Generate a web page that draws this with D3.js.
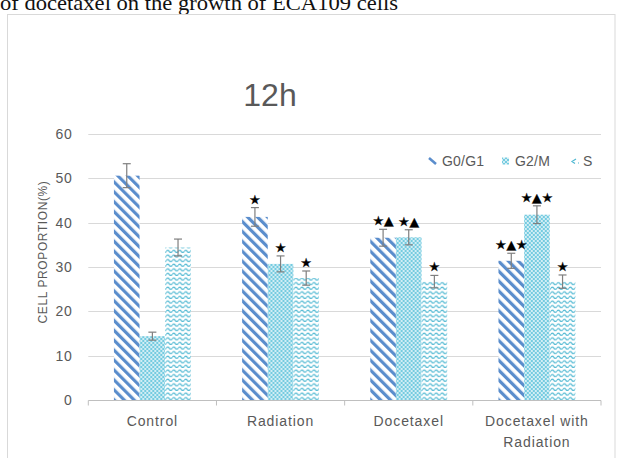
<!DOCTYPE html>
<html>
<head>
<meta charset="utf-8">
<script src="https://cdn.jsdelivr.net/npm/d3@7"></script>
<style>
  html, body { margin: 0; padding: 0; background: #fff; }
  svg { display: block; }
</style>
</head>
<body>
<script>
// Cell-cycle distribution of ECA109 cells after 12h treatment
const categories = ["Control", "Radiation", "Docetaxel", "Docetaxel with Radiation"];
const seriesNames = ["G0/G1", "G2/M", "S"];
const g0g1 = [50.6, 41.3, 36.6, 31.4];
const g2m  = [14.4, 30.7, 36.7, 41.8];
const sPhase = [34.4, 27.5, 26.7, 26.7];
const g0g1Err = [2.7, 2.1, 1.9, 1.7];
const g2mErr  = [0.9, 1.8, 1.7, 2.0];
const sErr    = [1.9, 1.6, 1.4, 1.5];
// significance marks above each bar (★ vs control, ▲ vs single treatment)
const g0g1Marks = ["", "★", "★▲", "★▲★"];
const g2mMarks  = ["", "★", "★▲", "★▲★"];
const sMarks    = ["", "★", "★", "★"];
const yTicks = [0, 10, 20, 30, 40, 50, 60];

const W = 617, H = 458;
const svg = d3.select("body").append("svg").attr("width", W).attr("height", H);

const blue = "#5a8dcc";
const cyan = "#4fb8d2";

// fill patterns
const defs = svg.append("defs");
const stripes = defs.append("pattern").attr("id", "pat-g0")
  .attr("patternUnits", "userSpaceOnUse").attr("width", 7).attr("height", 7)
  .attr("patternTransform", "rotate(-45)");
stripes.append("rect").attr("width", 7).attr("height", 7).attr("fill", "#fff");
stripes.append("rect").attr("width", 3.2).attr("height", 7).attr("fill", blue);

const mesh = defs.append("pattern").attr("id", "pat-g2")
  .attr("patternUnits", "userSpaceOnUse").attr("width", 4).attr("height", 4);
mesh.append("rect").attr("width", 4).attr("height", 4).attr("fill", "#74cbe0");
mesh.append("circle").attr("cx", 1).attr("cy", 1).attr("r", 0.9).attr("fill", "#fff");
mesh.append("circle").attr("cx", 3).attr("cy", 3).attr("r", 0.9).attr("fill", "#fff");

const wave = defs.append("pattern").attr("id", "pat-s")
  .attr("patternUnits", "userSpaceOnUse").attr("width", 6).attr("height", 4.6);
wave.append("rect").attr("width", 6).attr("height", 4.6).attr("fill", "#fff");
wave.append("path").attr("d", "M0,3 Q1.5,0.8 3,3 T6,3")
  .attr("fill", "none").attr("stroke", cyan).attr("stroke-width", 1.2);

const fills = { "G0/G1": "url(#pat-g0)", "G2/M": "url(#pat-g2)", "S": "url(#pat-s)" };

// document caption line partially visible above the chart
svg.append("text").attr("x", 0).attr("y", 9.5)
  .attr("font-family", "Liberation Serif, Times New Roman, serif")
  .attr("font-size", 21).attr("fill", "#111")
  .attr("textLength", 398).attr("lengthAdjust", "spacingAndGlyphs")
  .text("of docetaxel on the growth of ECA109 cells");

// chart frame
svg.append("rect").attr("x", 7.5).attr("y", 14.5).attr("width", 607.5).attr("height", 460)
  .attr("fill", "#fff").attr("stroke", "#d9d9d9").attr("stroke-width", 1);

const x0 = d3.scaleBand().domain(categories).range([88.3, 601]).paddingInner(0).paddingOuter(0);
const x1 = d3.scaleBand().domain(seriesNames).range([0, x0.bandwidth()]).paddingInner(0).paddingOuter(1);
const y = d3.scaleLinear().domain([0, 60]).range([400, 134]);

const font = "Liberation Sans, Arial, sans-serif";
const grey = "#595959";

// title
svg.append("text").attr("x", 270).attr("y", 106).attr("text-anchor", "middle")
  .attr("font-family", font).attr("font-size", 32).attr("fill", grey).text("12h");

// gridlines
svg.append("g").selectAll("line").data(yTicks.filter(d => d > 0)).join("line")
  .attr("x1", 88.3).attr("x2", 601)
  .attr("y1", d => Math.round(y(d)) + 0.5).attr("y2", d => Math.round(y(d)) + 0.5)
  .attr("stroke", "#d9d9d9").attr("stroke-width", 1);

// y axis labels
const yAxis = svg.append("g").attr("transform", "translate(88.3,0)")
  .call(d3.axisLeft(y).tickValues(yTicks).tickSize(0).tickPadding(16));
yAxis.select(".domain").remove();
yAxis.selectAll("text").attr("font-family", font).attr("font-size", 14)
  .attr("fill", grey).attr("letter-spacing", 0.6);

// y axis title
svg.append("text").attr("transform", "translate(47,252) rotate(-90)")
  .attr("text-anchor", "middle").attr("font-family", font).attr("font-size", 12)
  .attr("letter-spacing", 0.6).attr("fill", grey).text("CELL PROPORTION(%)");

// bars
const rows = categories.map((c, i) => ({
  cat: c,
  items: [
    { s: "G0/G1", v: g0g1[i], e: g0g1Err[i], m: g0g1Marks[i] },
    { s: "G2/M", v: g2m[i], e: g2mErr[i], m: g2mMarks[i] },
    { s: "S", v: sPhase[i], e: sErr[i], m: sMarks[i] }
  ]
}));

const groups = svg.append("g").selectAll("g").data(rows).join("g")
  .attr("transform", d => `translate(${x0(d.cat)},0)`);

groups.selectAll("rect").data(d => d.items).join("rect")
  .attr("x", d => x1(d.s)).attr("width", x1.bandwidth())
  .attr("y", d => y(d.v)).attr("height", d => y(0) - y(d.v))
  .attr("fill", d => fills[d.s]);

// error bars
const eb = groups.selectAll("g.err").data(d => d.items).join("g").attr("class", "err")
  .attr("transform", d => `translate(${x1(d.s) + x1.bandwidth() / 2},0)`)
  .attr("stroke", "#7f7f7f").attr("stroke-width", 1.2);
eb.append("line").attr("y1", d => y(d.v + d.e)).attr("y2", d => y(d.v - d.e));
eb.append("line").attr("x1", -4).attr("x2", 4).attr("y1", d => y(d.v + d.e)).attr("y2", d => y(d.v + d.e));
eb.append("line").attr("x1", -4).attr("x2", 4).attr("y1", d => y(d.v - d.e)).attr("y2", d => y(d.v - d.e));

// significance marks
groups.selectAll("text.mark").data(d => d.items.filter(it => it.m)).join("text")
  .attr("class", "mark")
  .attr("x", d => x1(d.s) + x1.bandwidth() / 2)
  .attr("y", d => y(d.v + d.e) - 4)
  .attr("text-anchor", "middle")
  .attr("font-family", "DejaVu Sans, sans-serif").attr("font-size", 12.5)
  .attr("fill", "#000").attr("stroke", "#000").attr("stroke-width", 0.3)
  .text(d => d.m);

// x axis
const xAxisG = svg.append("g").attr("transform", "translate(0,400.5)");
xAxisG.append("line").attr("x1", 88.3).attr("x2", 601).attr("stroke", "#bfbfbf");
const bounds = [88.3, ...categories.map(c => x0(c) + x0.bandwidth())];
xAxisG.selectAll("line.tick").data(bounds).join("line").attr("class", "tick")
  .attr("x1", d => d).attr("x2", d => d).attr("y1", 0).attr("y2", 5).attr("stroke", "#bfbfbf");

const xLabels = {
  "Control": ["Control"],
  "Radiation": ["Radiation"],
  "Docetaxel": ["Docetaxel"],
  "Docetaxel with Radiation": ["Docetaxel with", "Radiation"]
};
const xl = svg.append("g").selectAll("text").data(categories).join("text")
  .attr("x", d => x0(d) + x0.bandwidth() / 2).attr("y", 426)
  .attr("text-anchor", "middle").attr("font-family", font).attr("font-size", 14)
  .attr("letter-spacing", 0.9).attr("fill", grey);
xl.selectAll("tspan").data(d => xLabels[d].map((t, i) => ({ t, i, c: d }))).join("tspan")
  .attr("x", d => x0(d.c) + x0.bandwidth() / 2).attr("dy", d => d.i ? 21 : 0).text(d => d.t);

// legend
const legendX = [442, 515, 583];
const leg = svg.append("g").selectAll("g").data(seriesNames).join("g")
  .attr("transform", (d, i) => `translate(${legendX[i]},161)`);
leg.append("text").attr("y", 5).attr("font-family", font).attr("font-size", 14)
  .attr("letter-spacing", 0.2).attr("fill", grey).text(d => d);
leg.filter(d => d === "G0/G1").append("line")
  .attr("x1", -13).attr("y1", -3).attr("x2", -6).attr("y2", 3)
  .attr("stroke", blue).attr("stroke-width", 2.5);
leg.filter(d => d === "G2/M").append("rect")
  .attr("x", -13).attr("y", -3.5).attr("width", 7).attr("height", 7).attr("fill", "url(#pat-g2)");
leg.filter(d => d === "S").append("path")
  .attr("d", "M-7,-2 L-11,0.5 L-8,2.5 M-5,2 L-4,2")
  .attr("fill", "none").attr("stroke", cyan).attr("stroke-width", 1.2);
</script>
</body>
</html>
